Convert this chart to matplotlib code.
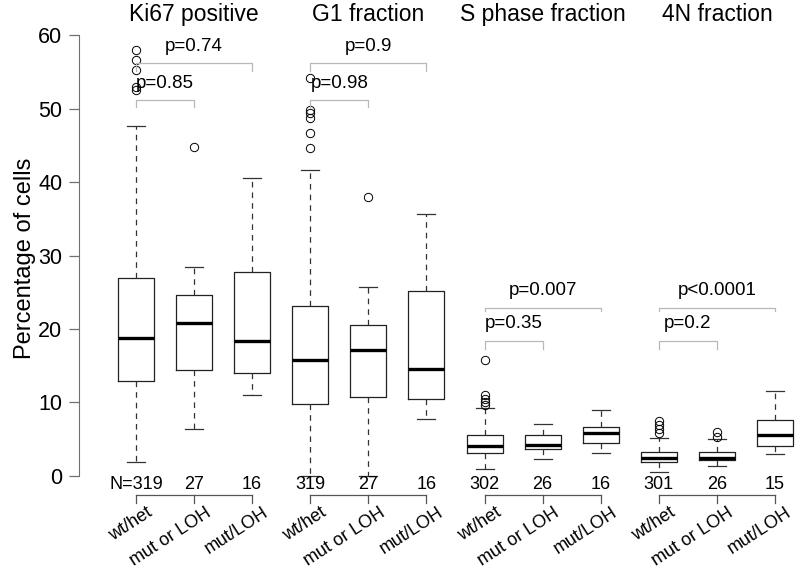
import numpy as np
import matplotlib
matplotlib.use('Agg')
import matplotlib.pyplot as plt

plt.rcParams['font.family'] = ['Liberation Sans', 'DejaVu Sans']

# data
groups = ['Ki67 positive', 'G1 fraction', 'S phase fraction', '4N fraction']
conditions = ['wt/het', 'mut or LOH', 'mut/LOH']
n_counts = [319, 27, 16, 319, 27, 16, 302, 26, 16, 301, 26, 15]

medians = [18.8, 20.8, 18.3, 15.7, 17.1, 14.5, 4.1, 4.2, 5.8, 2.4, 2.4, 5.6]
q1 = [12.9, 14.4, 14.0, 9.8, 10.7, 10.5, 3.1, 3.6, 4.4, 1.9, 2.1, 4.0]
q3 = [26.9, 24.6, 27.8, 23.1, 20.6, 25.1, 5.6, 5.6, 6.6, 3.2, 3.3, 7.6]
whislo = [1.9, 6.3, 11.0, 0.0, 0.0, 7.7, 0.9, 2.3, 3.1, 0.55, 1.3, 3.0]
whishi = [47.6, 28.5, 40.5, 41.7, 25.7, 35.7, 9.2, 7.1, 9.0, 5.2, 5.0, 11.6]
fliers = [
    [58.0, 56.6, 55.3, 52.9, 52.5],
    [44.8],
    [],
    [54.2, 49.8, 49.4, 48.8, 46.7, 44.6],
    [38.0],
    [],
    [15.8, 11.0, 10.4, 10.0, 9.7],
    [],
    [],
    [7.4, 6.9, 6.4, 5.8],
    [6.0, 5.3],
    [],
]

# p-values: (wt/het vs mut or LOH, wt/het vs mut/LOH)
p_near = ['p=0.85', 'p=0.98', 'p=0.35', 'p=0.2']
p_far = ['p=0.74', 'p=0.9', 'p=0.007', 'p<0.0001']
y_near = [51.2, 51.2, 18.4, 18.4]
y_far = [56.2, 56.2, 22.9, 22.9]

positions = np.arange(1, 13)

fig = plt.figure(figsize=(8, 5.68), dpi=100)
ax = fig.add_axes([79 / 800, 0, 721 / 800, 1])
ax.set_xlim(0.02, 12.43)
ax.set_ylim(-12.57, 64.81)

stats = []
for i in range(12):
    stats.append(dict(med=medians[i], q1=q1[i], q3=q3[i],
                      whislo=whislo[i], whishi=whishi[i], fliers=fliers[i]))

ax.bxp(stats, positions=positions, widths=0.62, showfliers=True,
       boxprops=dict(color='#222222', lw=0.9),
       medianprops=dict(color='black', lw=2.4, solid_capstyle='butt'),
       whiskerprops=dict(color='#333333', lw=0.9, linestyle=(0, (4.5, 4))),
       capprops=dict(color='#333333', lw=0.9),
       capwidths=0.31,
       flierprops=dict(marker='o', markersize=6, markerfacecolor='none',
                       markeredgecolor='black', markeredgewidth=0.7))

# y axis R-style
for s in ['top', 'right', 'bottom']:
    ax.spines[s].set_visible(False)
ax.spines['left'].set_bounds(0, 60)
ax.spines['left'].set_color('#707070')
ax.set_yticks([0, 10, 20, 30, 40, 50, 60])
ax.tick_params(axis='y', length=7, width=0.9, color='#707070', pad=5, labelsize=15.5)
ax.set_xticks([])

fig.text(25 / 800, 1 - 258 / 568, 'Percentage of cells', rotation=90,
         ha='center', va='center', fontsize=17)

gray_ax = '#555555'
br_col = '#b8b8b8'
for g in range(4):
    x0, x1, x2 = positions[3 * g: 3 * g + 3]
    # group title
    ax.text(x1, 62.8, groups[g], ha='center', va='center', fontsize=16.5)
    # group axis line with ticks
    ax.plot([x0, x2], [-2.63, -2.63], color=gray_ax, lw=0.9, clip_on=False)
    for k, x in enumerate([x0, x1, x2]):
        ax.plot([x, x], [-2.63, -3.75], color=gray_ax, lw=0.9, clip_on=False)
        lab = str(n_counts[3 * g + k])
        if g == 0 and k == 0:
            lab = 'N=' + lab
        ax.text(x, -1.15, lab, ha='center', va='center', fontsize=13)
        ax.text(x + 0.18, -3.9, conditions[k], ha='right', va='top',
                rotation=33, rotation_mode='anchor', fontsize=13)
    # brackets
    tick_far = 1.0 if g < 2 else 0.5
    tick_near = 1.0 if g < 2 else 1.2
    ax.plot([x0, x0, x2, x2], [y_far[g] - tick_far, y_far[g], y_far[g], y_far[g] - tick_far],
            color=br_col, lw=0.9)
    ax.plot([x0, x0, x1, x1], [y_near[g] - tick_near, y_near[g], y_near[g], y_near[g] - tick_near],
            color=br_col, lw=0.9)
    ax.text((x0 + x2) / 2, y_far[g] + 2.3, p_far[g], ha='center', va='center', fontsize=13.5)
    ax.text((x0 + x1) / 2, y_near[g] + 2.3, p_near[g], ha='center', va='center', fontsize=13.5)

fig.savefig('out.png', dpi=100)
